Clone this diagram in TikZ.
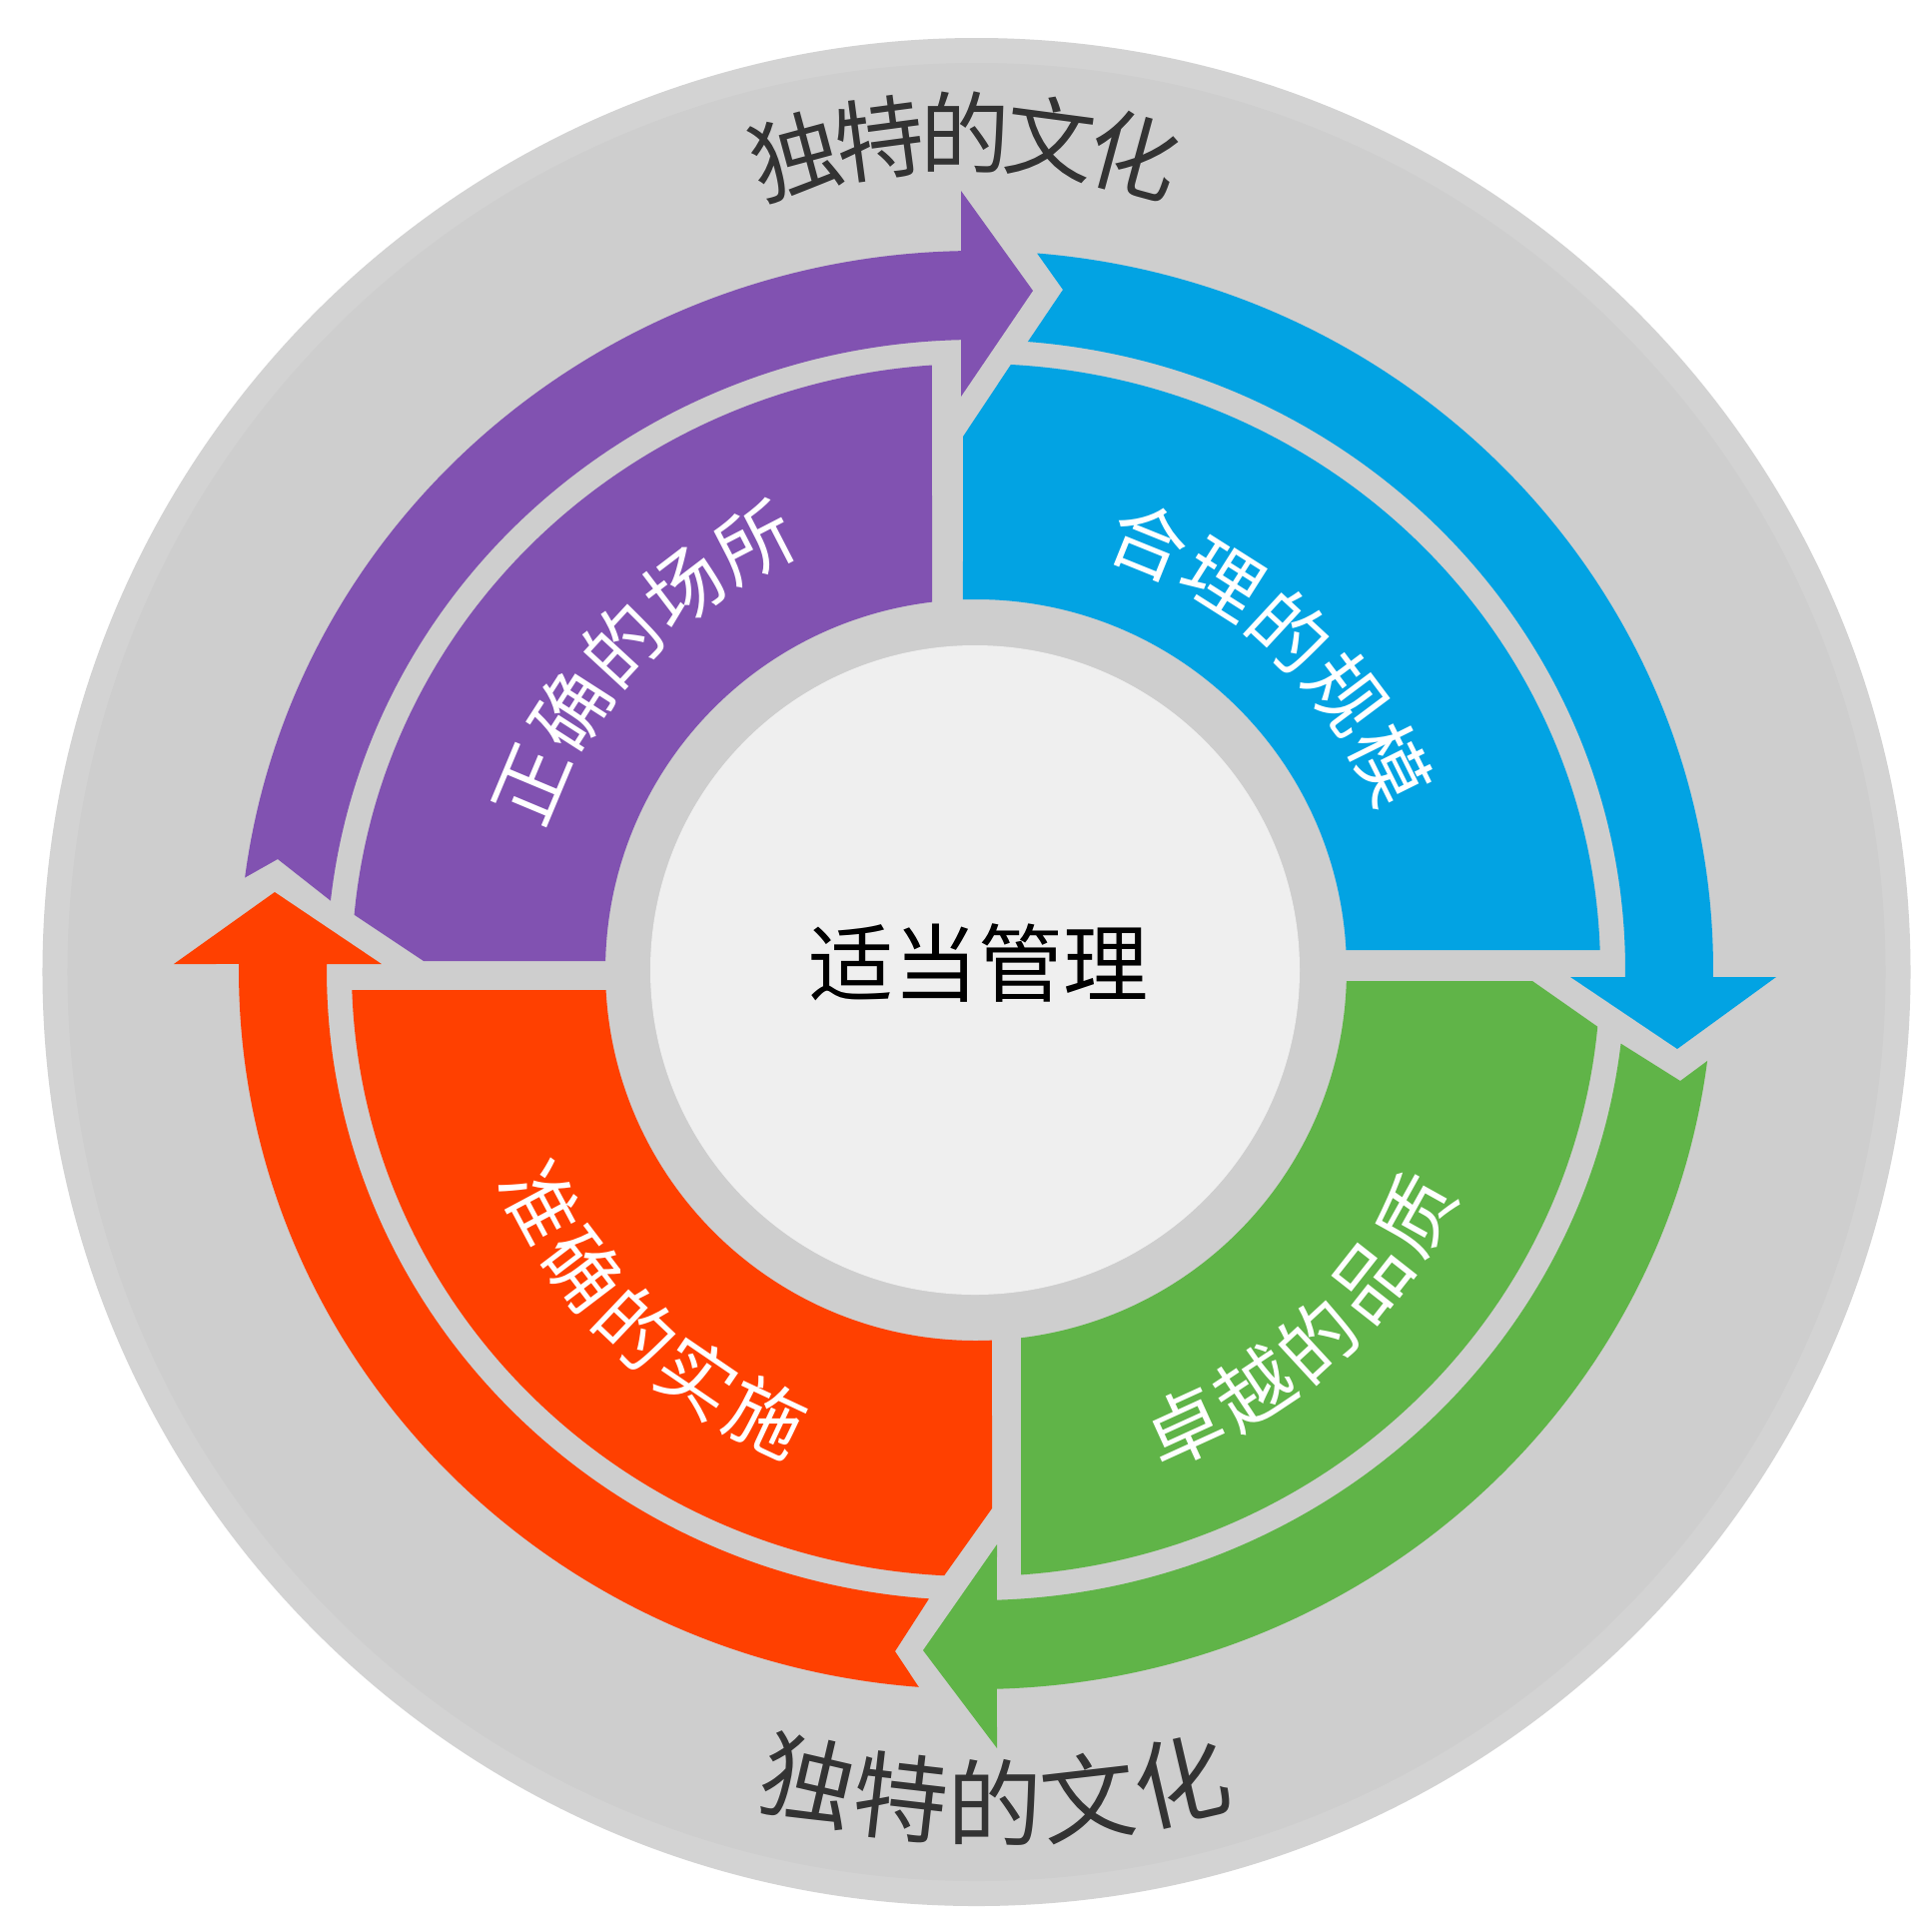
\documentclass[tikz,border=0pt]{standalone}
\usepackage{fontspec}
\newfontfamily\cjk{Noto Sans CJK SC}
\definecolor{cpurple}{RGB}{129,82,177}
\definecolor{cblue}{RGB}{2,163,227}
\definecolor{cgreen}{RGB}{96,180,72}
\definecolor{corange}{RGB}{255,64,0}
\definecolor{gband}{RGB}{211,211,211}
\definecolor{gdisk}{RGB}{206,206,206}
\definecolor{gcenter}{RGB}{239,239,239}
\definecolor{tdark}{RGB}{51,51,51}
\tikzset{
  seglabel/.style={font=\cjk\fontsize{22}{26}\selectfont, text=white, inner sep=0pt},
  culturetop/.style={font=\cjk\fontsize{25.5}{30}\selectfont, text=tdark, inner sep=0pt},
  culturebot/.style={font=\cjk\fontsize{27}{32}\selectfont, text=tdark, inner sep=0pt},
  centertext/.style={font=\cjk\fontsize{24.2}{29}\selectfont, text=black, inner sep=0pt}
}
\begin{document}
\begin{tikzpicture}[x=0.01cm,y=0.01cm]
\useasboundingbox (-977,-961) rectangle (957,971);
\fill[white] (-977,-961) rectangle (957,971);
% background disks
\fill[gband] (0.5,-2) circle[radius=935];
\fill[gdisk] (0.5,-2) circle[radius=910];
% inner segments
\fill[cpurple] (174.78:625 and 607) arc[start angle=174.78, end angle=94.04, x radius=625, y radius=607]
  -- (96.81:371) arc[start angle=96.81, end angle=178.61, radius=371] -- (-553,9) -- cycle;
\fill[cblue] (86.8:625 and 607) arc[start angle=86.8, end angle=1.88, x radius=625, y radius=607]
  -- (3.09:371) arc[start angle=3.09, end angle=92.01, radius=371] -- (-13,534) -- cycle;
\fill[cgreen] (-5.36:625 and 607) arc[start angle=-5.36, end angle=-85.86, x radius=625, y radius=607]
  -- (-83.03:371) arc[start angle=-83.03, end angle=-1.70, radius=371] -- (557,-11) -- cycle;
\fill[corange] (-92.92:625 and 607) arc[start angle=-92.92, end angle=-178.11, x radius=625, y radius=607]
  -- (-176.91:371) arc[start angle=-176.91, end angle=-87.53, radius=371] -- (16,-539) -- cycle;
% outer arrows
\fill[cpurple] (172.62:738 and 720) arc[start angle=172.62, end angle=91.16, x radius=738, y radius=720]
  -- (-15,780) -- (57,680) -- (-15,574) -- (91.32:650 and 631)
  arc[start angle=91.32, end angle=173.69, x radius=650, y radius=631] -- (-699,111) -- cycle;
\fill[cblue] (85.25:738 and 720) arc[start angle=85.25, end angle=-0.557, x radius=738, y radius=720]
  -- (801,-7) -- (702,-79) -- (595,-7) -- (-0.636:650 and 631)
  arc[start angle=-0.636, end angle=85.42, x radius=650, y radius=631] -- (87,681) -- cycle;
\fill[cgreen] (-7.26:738 and 720) arc[start angle=-7.26, end angle=-88.37, x radius=738, y radius=720]
  -- (21,-779) -- (-53,-681) -- (21,-575) -- (-88.15:650 and 631)
  arc[start angle=-88.15, end angle=-6.70, x radius=650, y radius=631] -- (705,-111) -- cycle;
\fill[corange] (-94.45:738 and 720) arc[start angle=-94.45, end angle=-180.48, x radius=738, y radius=720]
  -- (-803,6) -- (-702,78) -- (-595,6) -- (-180.545:650 and 631)
  arc[start angle=-180.545, end angle=-94.15, x radius=650, y radius=631] -- (-81,-682) -- cycle;
% center circle
\fill[gcenter] (-1,0) circle[radius=325];
\node[centertext] (center) at (2.5,7) {适当管理};
% segment labels
\foreach \ch [count=\i from 0] in {正,确,的,场,所}{
  \pgfmathsetmacro\ang{157.3-10*\i}
  \node[seglabel, rotate=\ang-90] (lp\i) at (\ang:482) {\ch};
}
\foreach \ch [count=\i from 0] in {合,理,的,规,模}{
  \pgfmathsetmacro\ang{68-10.4*\i}
  \node[seglabel, rotate=\ang-90] (lb\i) at (\ang:463) {\ch};
}
\foreach \ch [count=\i from 0] in {卓,越,的,品,质}{
  \pgfmathsetmacro\ang{-65.5+9.1*\i}
  \node[seglabel, rotate=\ang+90] (lg\i) at (\ang:503) {\ch};
}
\foreach \ch [count=\i from 0] in {准,确,的,实,施}{
  \pgfmathsetmacro\ang{-151.9+9.2*\i}
  \node[seglabel, rotate=\ang+90] (lo\i) at (\ang:494) {\ch};
}
% culture texts
\foreach \ch [count=\i from 0] in {独,特,的,文,化}{
  \pgfmathsetmacro\ang{105.16-7.58*\i}
  \node[culturetop, rotate=\ang-90] (top\i) at ({-11+650*cos(\ang)},{188+650*sin(\ang)}) {\ch};
}
\foreach \ch [count=\i from 0] in {独,特,的,文,化}{
  \pgfmathsetmacro\ang{-103.14+6.57*\i}
  \node[culturebot, rotate=\ang+90] (bot\i) at ({19+820*cos(\ang)},{-13+820*sin(\ang)}) {\ch};
}
\end{tikzpicture}
\end{document}
